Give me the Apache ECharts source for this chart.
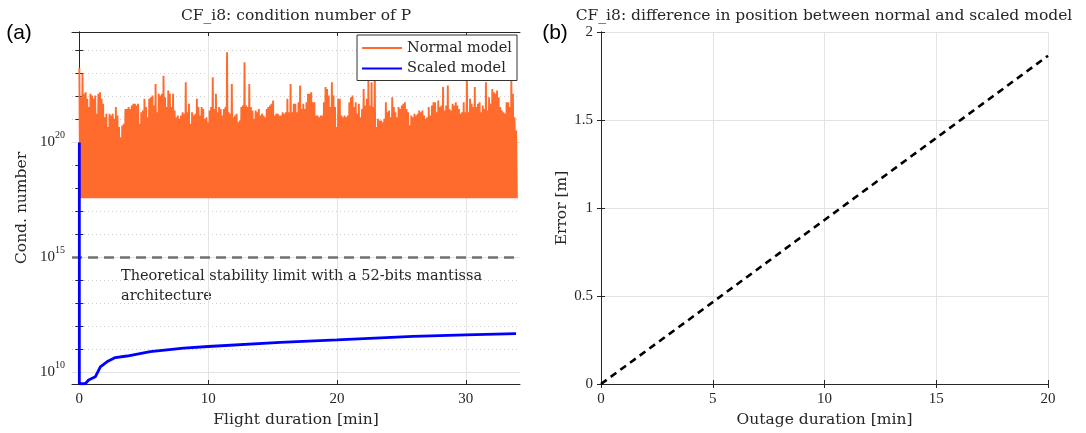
<!DOCTYPE html>
<html>
<head>
<meta charset="utf-8">
<script src="https://cdn.jsdelivr.net/npm/echarts@6/dist/echarts.min.js"></script>
<style>
  html, body { margin: 0; padding: 0; background: #fff; }
  #chart { width: 1086px; height: 433px; }
</style>
</head>
<body>
<div id="chart"></div>
<script>
// (a) condition number of P -- normal model, upper envelope of the noisy signal (exponents of 10)
const normalPeakExp = [
  23.25, 21.97, 22.99, 22.12, 22.19, 21.90, 21.54, 22.12, 22.04, 21.90,
  22.04, 21.25, 22.12, 22.19, 21.90, 21.68, 21.10, 21.25, 20.67, 21.25,
  21.17, 21.25, 21.03, 21.54, 21.17, 20.67, 20.23, 20.74, 20.81, 21.46,
  21.46, 21.54, 21.46, 21.61, 21.68, 21.68, 21.61, 21.68, 20.81, 21.32,
  21.39, 21.90, 21.54, 21.10, 21.90, 21.97, 22.04, 21.61, 22.55, 21.32,
  22.12, 22.04, 22.12, 22.91, 21.97, 21.54, 22.26, 22.12, 21.54, 22.12,
  21.39, 21.10, 21.17, 21.03, 21.17, 21.32, 21.25, 22.62, 21.32, 21.68,
  20.81, 21.32, 21.17, 21.25, 21.90, 21.54, 21.17, 21.54, 21.46, 21.03,
  21.10, 20.88, 21.39, 21.54, 22.84, 21.46, 22.12, 21.32, 21.54, 21.46,
  21.17, 21.46, 21.54,
  23.93, 21.32, 21.25, 22.55, 21.10, 21.17, 21.25, 20.88, 20.96, 21.54,
  21.61, 23.49, 21.61, 21.54, 22.55, 21.54, 21.39, 21.03, 21.39, 21.32,
  21.46, 21.17, 21.25, 21.17, 21.10, 21.46, 21.54, 21.61, 21.68, 21.83,
  21.17, 21.25, 21.25, 21.17, 21.17, 21.32, 21.25, 21.32, 21.90, 21.32,
  22.55, 21.32, 21.68, 21.68, 21.32, 21.75, 22.48, 21.46, 21.68, 21.46,
  21.75, 22.12, 22.12, 22.19, 21.75, 21.75, 21.17, 21.17, 21.10, 21.17,
  21.17, 21.75, 22.41, 22.33, 22.04, 21.54, 22.62, 22.04, 21.54, 20.67,
  21.90, 21.90, 21.17, 21.10, 21.17, 21.10, 21.17, 21.75, 21.97, 22.04,
  21.54, 21.75, 21.25, 21.68, 21.10, 21.46, 22.33, 21.61, 21.90, 22.70,
  21.61, 22.62, 21.54,
  23.13, 20.67, 21.03, 20.96, 20.96, 20.88, 21.03, 21.75, 21.32, 21.39,
  21.10, 21.97, 21.54, 21.32, 21.10, 21.54, 21.46, 21.61, 21.68, 21.75,
  21.46, 21.32, 20.74, 21.17, 21.10, 21.25, 21.17, 21.25, 21.39, 21.32,
  21.39, 21.17, 21.03, 21.10, 21.54, 21.17, 21.61, 21.75, 21.75, 21.32,
  21.83, 21.54, 21.61, 22.41, 21.39, 21.61, 22.48, 21.46, 21.39, 21.68,
  21.61, 21.75, 21.61, 21.46, 21.25, 21.32, 21.75, 21.32, 22.99, 21.32,
  21.90, 21.68, 21.54, 22.41, 21.54, 21.68, 21.75, 21.32, 21.61, 21.46,
  22.62, 21.39, 21.97, 21.68, 22.33, 22.19, 22.12, 22.26, 21.97, 21.54,
  21.39, 21.32, 21.25, 21.75, 21.75, 21.54, 22.70, 22.12, 21.10, 20.52
];
const normalFloor = 3.7e17;      // lower edge of the band
const normalStep = 0.1233;       // min between two peaks

// (a) scaled model
const scaledTime = [0, 0, 0.46, 0.72, 1.24, 1.63, 2.14, 2.79, 3.7, 5.5, 8.1, 10, 15.6, 20, 25.9, 30, 33.9];
const scaledCond = [1e20, 3.1e9, 3.1e9, 4.5e9, 6.2e9, 1.7e10, 2.8e10, 4.3e10, 5.0e10, 7.8e10, 1.1e11, 1.3e11, 1.95e11, 2.5e11, 3.55e11, 4.2e11, 4.7e11];

const stabilityLimit = 1e15;
const condMajorTicks = [1e10, 1e15, 1e20];
const condDecades = [1e10, 1e11, 1e12, 1e13, 1e14, 1e15, 1e16, 1e17, 1e18, 1e19, 1e20, 1e21, 1e22, 1e23, 1e24];
const condMin = 3.02e9;
const condMax = 6.46e24;
const flightMin = -0.57;
const flightMax = 34.21;
const flightTicks = [0, 10, 20, 30];

// (b) position error
const outageTime = [0, 5, 10, 15, 20];
const outageError = [0, 0.465, 0.932, 1.398, 1.865];

const axisColor = '#262626';
const serif = 'DejaVu Serif';
const numFont = 'Liberation Serif';

let normalData = [];
normalPeakExp.forEach((e, i) => {
  normalData.push([i * normalStep, Math.pow(10, e)]);
  normalData.push([i * normalStep + normalStep / 2, normalFloor]);
});
let scaledData = scaledTime.map((t, i) => [t, scaledCond[i]]);
let errorData = outageTime.map((t, i) => [t, outageError[i]]);

function condLabel(v) {
  const l = Math.log10(v);
  const e = Math.round(l);
  if (Math.abs(l - e) > 1e-6) return '';
  if (condMajorTicks.map(m => Math.round(Math.log10(m))).indexOf(e) < 0) return '';
  return '{b|10}{s|' + e + '}';
}

const chart = echarts.init(document.getElementById('chart'), null, {renderer: 'canvas'});

const tickStyle = {inside: true, length: 4, lineStyle: {color: axisColor, width: 1}};
const lineStyleAx = {show: true, lineStyle: {color: axisColor, width: 1}};
const numLabel = {color: axisColor, fontFamily: numFont, fontSize: 15};
const nameStyle = {color: axisColor, fontFamily: serif, fontSize: 15.5};

const option = {
  animation: false,
  backgroundColor: '#fff',
  textStyle: {fontFamily: serif},
  grid: [
    {left: 72, top: 32, width: 448, height: 352},
    {left: 601, top: 32, width: 447, height: 352}
  ],
  legend: {
    data: ['Normal model', 'Scaled model'],
    orient: 'vertical',
    right: 569,
    top: 35,
    icon: 'rect',
    itemWidth: 40,
    itemHeight: 2,
    itemGap: 2.5,
    padding: [4, 5, 3, 5],
    backgroundColor: '#fff',
    borderColor: '#333',
    borderWidth: 1,
    borderRadius: 0,
    textStyle: {fontFamily: serif, fontSize: 14.5, color: axisColor, lineHeight: 18}
  },
  xAxis: [
    {
      type: 'value', gridIndex: 0, min: flightMin, max: flightMax,
      axisLine: lineStyleAx,
      axisTick: Object.assign({customValues: flightTicks}, tickStyle),
      axisLabel: Object.assign({customValues: flightTicks, margin: 8}, numLabel),
      splitLine: {show: true, lineStyle: {color: '#e3e3e3', width: 1}},
      name: 'Flight duration [min]', nameLocation: 'middle', nameGap: 27, nameTextStyle: nameStyle
    },
    {
      type: 'value', gridIndex: 0, position: 'top', min: flightMin, max: flightMax,
      axisLine: lineStyleAx,
      axisTick: Object.assign({customValues: flightTicks}, tickStyle),
      axisLabel: {show: false}, splitLine: {show: false}
    },
    {
      type: 'value', gridIndex: 1, min: 0, max: 20, interval: 5,
      axisLine: lineStyleAx, axisTick: tickStyle,
      axisLabel: Object.assign({margin: 8}, numLabel),
      splitLine: {show: true, lineStyle: {color: '#e3e3e3', width: 1}},
      name: 'Outage duration [min]', nameLocation: 'middle', nameGap: 27, nameTextStyle: nameStyle
    },
    {
      type: 'value', gridIndex: 1, position: 'top', min: 0, max: 20, interval: 5,
      axisLine: lineStyleAx, axisTick: tickStyle,
      axisLabel: {show: false}, splitLine: {show: false}
    }
  ],
  yAxis: [
    {
      type: 'log', logBase: 10, gridIndex: 0, min: condMin, max: condMax,
      axisLine: lineStyleAx,
      axisTick: Object.assign({customValues: condDecades}, tickStyle),
      axisLabel: {
        customValues: condMajorTicks,
        formatter: condLabel, margin: 7,
        rich: {
          b: {fontFamily: numFont, fontSize: 15, color: axisColor, lineHeight: 24},
          s: {fontFamily: numFont, fontSize: 10, color: axisColor, verticalAlign: 'top', lineHeight: 12}
        }
      },
      splitLine: {show: true, lineStyle: {color: '#cdcdcd', width: 1, type: [1, 3]}},
      name: 'Cond. number', nameLocation: 'middle', nameGap: 42, nameTextStyle: nameStyle
    },
    {
      type: 'log', logBase: 10, gridIndex: 0, position: 'right', min: condMin, max: condMax,
      axisLine: lineStyleAx,
      axisTick: Object.assign({customValues: condDecades}, tickStyle),
      axisLabel: {show: false}, splitLine: {show: false}
    },
    {
      type: 'value', gridIndex: 1, min: 0, max: 2, interval: 0.5,
      axisLine: lineStyleAx, axisTick: tickStyle,
      axisLabel: Object.assign({margin: 8}, numLabel),
      splitLine: {show: true, lineStyle: {color: '#e3e3e3', width: 1}},
      name: 'Error [m]', nameLocation: 'middle', nameGap: 30, nameTextStyle: nameStyle
    },
    {
      type: 'value', gridIndex: 1, position: 'right', min: 0, max: 2, interval: 0.5,
      axisLine: lineStyleAx, axisTick: tickStyle,
      axisLabel: {show: false}, splitLine: {show: false}
    }
  ],
  series: [
    {
      name: 'Normal model', type: 'line', xAxisIndex: 0, yAxisIndex: 0,
      data: normalData, showSymbol: false, symbol: 'none', sampling: null, z: 2,
      lineStyle: {color: '#ff6b2c', width: 1.9},
      itemStyle: {color: '#ff6b2c'},
      markLine: {
        silent: true, symbol: 'none', z: 1, label: {show: false},
        lineStyle: {color: '#e3e3e3', width: 1, type: 'solid'},
        data: condMajorTicks.map(v => ({yAxis: v}))
      }
    },
    {
      name: 'Scaled model', type: 'line', xAxisIndex: 0, yAxisIndex: 0,
      data: scaledData, showSymbol: false, symbol: 'none', z: 4,
      lineStyle: {color: '#0000ff', width: 2.8},
      itemStyle: {color: '#0000ff'},
      markLine: {
        silent: true, symbol: 'none', z: 3, label: {show: false},
        lineStyle: {color: '#707070', width: 2.5, type: [10, 6]},
        data: [{yAxis: stabilityLimit}]
      }
    },
    {
      name: 'Error', type: 'line', xAxisIndex: 2, yAxisIndex: 2,
      data: errorData, showSymbol: false, symbol: 'none',
      lineStyle: {color: '#000', width: 2.6, type: [7, 5]}
    }
  ],
  graphic: [
    {type: 'text', x: 296, y: 16, style: {text: 'CF_i8: condition number of P', align: 'center', verticalAlign: 'middle', font: '15.5px "DejaVu Serif"', fill: axisColor}},
    {type: 'text', x: 824, y: 16, style: {text: 'CF_i8: difference in position between normal and scaled model', align: 'center', verticalAlign: 'middle', font: '15.5px "DejaVu Serif"', fill: axisColor}},
    {type: 'text', x: 19, y: 33, style: {text: '(a)', align: 'center', verticalAlign: 'middle', font: '21px "Liberation Sans"', fill: '#000'}},
    {type: 'text', x: 555, y: 33, style: {text: '(b)', align: 'center', verticalAlign: 'middle', font: '21px "Liberation Sans"', fill: '#000'}},
    {type: 'text', x: 121, y: 266, style: {text: 'Theoretical stability limit with a 52-bits mantissa\narchitecture', align: 'left', verticalAlign: 'top', font: '14.5px "DejaVu Serif"', lineHeight: 20, fill: axisColor}}
  ]
};

chart.setOption(option);
</script>
</body>
</html>
